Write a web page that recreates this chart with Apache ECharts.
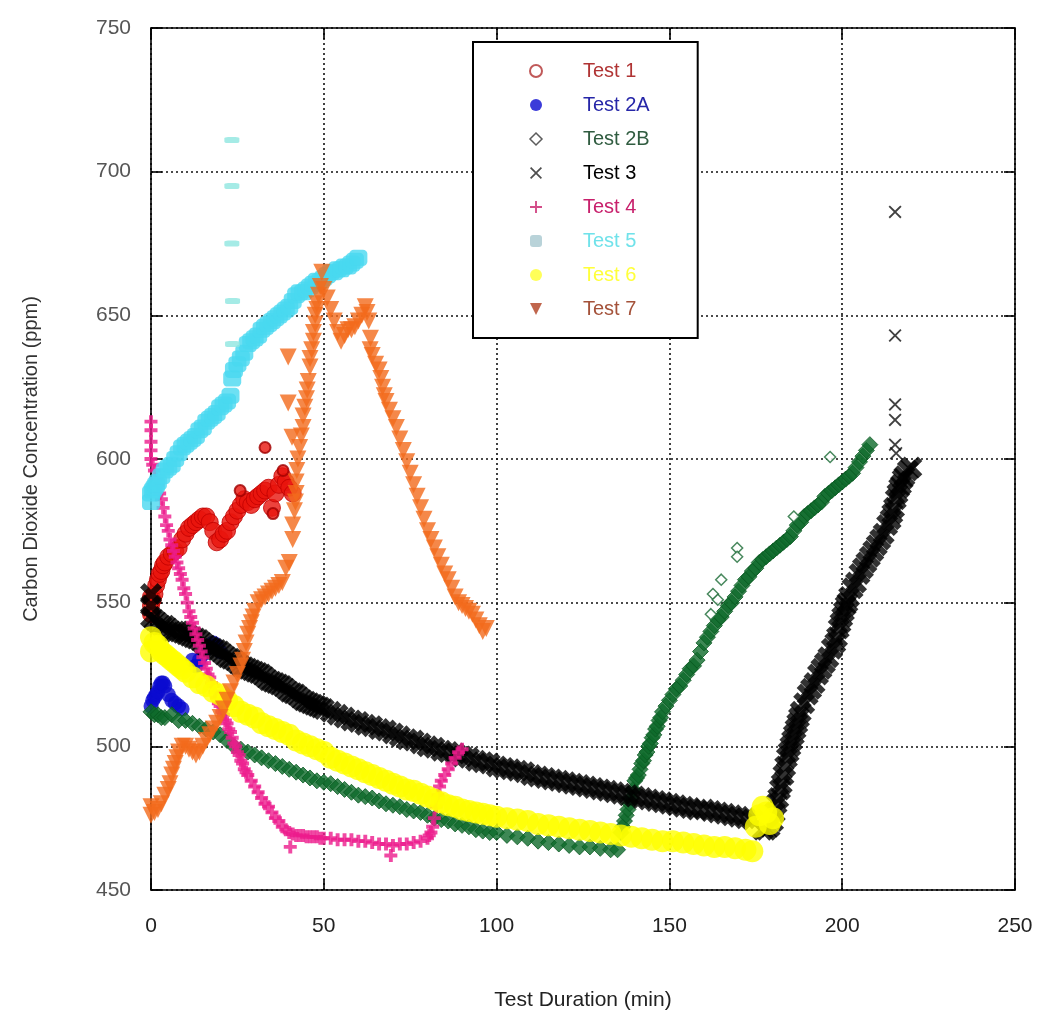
<!DOCTYPE html>
<html>
<head>
<meta charset="utf-8">
<script src="https://cdn.jsdelivr.net/npm/echarts@6/dist/echarts.min.js"></script>
<style>
html,body{margin:0;padding:0;background:#fff;}
#chart{width:1039px;height:1013px;}
</style>
</head>
<body>
<div id="chart"></div>
<script>
// ---- data (x = minutes, y = ppm) ----
var seriesNames = ['Test 1','Test 2A','Test 2B','Test 3','Test 4','Test 5','Test 6','Test 7'];
var xTicks = [0,50,100,150,200,250];
var yTicks = [450,500,550,600,650,700,750];

var test1 = [[0,546],[0,549],[0,552],[0.5,551],[1,553],[1.5,556],[2,558],[2.5,560],[3,561],[3.5,563],[4,564],[5,566],[6,567],[7,568],[8,569],[9,572],[10,574],[11,576],[12,577],[13,578],[14,579],[15,580],[16,580],[17,578],[18,575],[19,571],[20,572],[21,574],[22,575],[23,578],[24,580],[25,582],[26,584],[27,586],[28,585],[29,584],[30,586],[31,587],[32,588],[33,589],[34,590],[35,583],[36,588],[37,591],[38,594],[39,592],[40,590],[41,588]];
var test1Out = [[25.8,589],[33,604],[35.3,581],[38.2,596]];

var test2A = [[0,514],[0.5,516],[1,517],[1.5,518],[2,519],[2.5,521],[3,522],[3.5,522],[4,521],[5,518],[6,516],[7,515],[8,514],[9,513],[12,530],[13,528],[14,530],[15,532],[16,534],[17,535],[18,536],[19,535],[20,533]];

var test2B = [[0,512],[1,511],[2,511],[3,510],[4,510],[6,511],[8,509],[10,509],[12,508],[14,507],[16,506],[18,505],[20,504],[22,502],[24,500],[26,499],[28,498],[30,497],[32,496],[34,495],[36,494],[38,493],[40,492],[42,491],[44,490],[46,489],[48,488],[50,487.5],[52,487],[54,486],[56,485],[58,484],[60,483],[62,482.5],[64,482],[66,481],[68,480],[70,479.5],[72,479],[74,478],[76,477.5],[78,477],[80,476],[82,475],[84,474.5],[86,474],[88,473],[90,472.5],[92,472],[94,471],[96,470.5],[98,470],[100,470],[103,469],[106,468.5],[109,468],[112,467],[115,466.5],[118,466],[121,465.5],[124,465],[127,465],[130,464.5],[133,464],[135,464],
[136,470],[136.5,472],[137,474],[137.5,476],[138,478],[138.5,480],[139,482],[139.5,485],[140,488],[140.5,489],[141,490],[141.5,492],[142,494],[142.5,495],[143,497],[143.5,498],[144,500],[144.5,501],[145,503],[145.5,504],[146,506],[146.5,507],[147,509],[147.5,510],[148,512],[149,514],[150,516],[151,518],[152,520],[153,521],[154,523],[155,525],[156,527],[157,528],[158,530],[159,533],[160,536],[161,538],[162,540],[163,542],[164,544],[165,545],[166,547],[167,549],[168,550],[169,552],[170,554],[171,556],[172,558],[173,559],[174,561],[175,562],[176,564],[177,565],[178,566],[179,567],[180,568],[181,569],[182,570],[183,571],[184,572],[185,573],[186,575],[187,577],[188,578],[189,580],[190,581],[191,582],[192,583],[193,584],[194,585],[195,587],[196,588],[197,589],[198,590],[199,591],[200,592],[201,593],[202,594],[203,595],[204,597],[205,599],[206,601],[207,603],[208,605]];
var test2BOut = [[169.6,569],[169.6,566],[162.6,553],[196.5,600.7],[164,551],[162,546],[165,558],[186,580]];

var test3 = [[0,545],[0,549],[0,553],[1,544],[2,543],[3,542],[4,542],[5,541],[6,540],[7,540],[8,540],[9,539.5],[10,539],[11,538.5],[12,538],[13,537.5],[14,537],[15,536],[16,535],[17,534.5],[18,534],[19,533.5],[20,533],[21,532],[22,531],[23,530.5],[24,530],[25,529],[26,528],[27,527.5],[28,527],[29,526.5],[30,526],[31,525.5],[32,525],[33,524],[34,523],[35,522.5],[36,522],[37,521.5],[38,521],[39,520],[40,519],[41,518.5],[42,518],[43,517],[44,516],[45,515.5],[46,515],[47,514.5],[48,514],[49,513.5],[50,513],[52,512],[54,511],[56,510],[58,509],[60,508.5],[62,507.5],[64,507],[66,506],[68,505.5],[70,504.5],[72,503.5],[74,502.5],[76,502],[78,501],[80,500],[82,499.5],[84,498.5],[86,498],[88,497.5],[90,496.5],[92,496],[94,495],[96,494.5],[98,494],[100,493],[102,492.5],[104,492],[106,491.5],[108,491],[110,490],[112,489.5],[114,489],[116,488.5],[118,488],[120,487.5],[122,487],[124,486.5],[126,486],[128,485.5],[130,485],[132,484.5],[134,484],[136,483.5],[138,483],[140,482.5],[142,482],[144,481.5],[146,481],[148,480.5],[150,480],[152,479.5],[154,479],[156,478.5],[158,478],[160,478],[162,477.5],[164,477],[166,476.5],[168,476],[170,475.5],[172,475],[174,474.5],
[177,471],[178,471],[179,472],[180,474],[180.5,477],[181,480],[181.5,482],[182,485],[182.5,487],[183,490],[183.5,493],[184,496],[184.5,498],[185,500],[185.5,502],[186,504],[186.5,506],[187,508],[187.5,510],[188,512],[189,515],[190,518],[191,520],[192,522],[193,525],[194,527],[195,529],[196,531],[197,534],[198,536],[198.5,538],[199,541],[199.5,543],[200,545],[200.5,547],[201,549],[201.5,550],[202,552],[203,555],[204,557],[205,560],[206,562],[207,564],[208,566],[209,568],[210,570],[211,572],[212,574],[213,577],[214,579],[214.5,581],[215,583],[215.5,586],[216,588],[216.5,590],[217,591],[217.5,593],[218,594],[219,596],[220,597]];
var test3Out = [[215.3,686],[215.3,643],[215.3,619],[215.3,613.6],[215.3,605],[215.6,602]];

var test4 = [[0,613],[0,610],[0,606],[0,603],[0,600],[0.5,598],[1,596],[1.5,593],[2,591],[2.5,588],[3,586],[3.5,583],[4,580],[4.5,577],[5,575],[5.5,572],[6,570],[6.5,568],[7,566],[7.5,564],[8,562],[8.5,560],[9,558],[9.5,555],[10,553],[10.5,550],[11,547],[11.5,545],[12,543],[12.5,541],[13,539],[13.5,537],[14,535],[14.5,533],[15,531],[15.5,529],[16,527],[16.5,525],[17,524],[17.5,522],[18,521],[18.5,519],[19,517],[19.5,515],[20,514],[20.5,512],[21,511],[21.5,509],[22,508],[22.5,506],[23,505],[23.5,503],[24,501],[24.5,500],[25,498],[25.5,497],[26,495],[26.5,494],[27,492],[27.5,491],[28,490],[29,488],[30,486],[31,484],[32,482],[33,480],[34,479],[35,477],[36,475],[37,474],[38,472],[39,471],[40,470],[40.3,465],[41,469.5],[42,469],[43,469],[44,469],[45,468.5],[46,468.5],[47,468.5],[48,468.5],[49,468],[50,468],[52,468],[54,467.5],[56,467.5],[58,467.5],[60,467],[62,467],[64,466.5],[66,466],[68,466],[69.4,462],[70,465.5],[72,466],[74,466],[76,466.5],[78,467],[80,468],[80.5,469],[81,470],[81.5,472],[82,475],[82.5,479],[83,483],[83.5,486],[84,488],[85,490],[86,492],[87,494],[88,496],[89,498],[90,499]];

var test5 = [[0,585],[0,588],[0.5,589],[1,590],[1.5,591],[2,592],[3,594],[4,596],[5,597],[6,598],[7,600],[8,602],[9,604],[10,605],[11,606],[12,607],[13,608],[14,610],[15,611],[16,613],[17,614],[18,615],[19,616],[20,618],[21,619],[22,620],[23,622],
[23.5,628],[24,631],[25,633],[26,635],[27,637],[28,640],[29,641],[30,642],[31,643],[32,645],[33,646],[34,647],[35,648],[36,649],[37,650],[38,651],[39,652],[40,653],[41,655],[42,657],[43,658],[44,658],[45,659],[46,660],[47,661],[48,662],[49,662],[50,663],[51,664],[52,665],[53,665],[54,666],[55,666],[56,667],[57,667],[58,668],[59,669],[60,670]];
var test5Out = [[23.4,711],[23.4,695],[23.4,675],[23.6,655],[23.6,640]];

var test6 = [[0,533],[0,538],[1,536],[2,535],[3,533],[4,532],[5,531],[6,530],[7,529],[8,528],[9,527],[10,526],[12,524],[14,522],[16,521],[18,519],[20,518],[22,516],[24,514],[26,512],[28,511],[30,510],[32,508],[34,507],[36,506],[38,505],[40,504],[42,502],[44,501],[46,500],[48,499],[50,498],[52,496],[54,495],[56,494],[58,493],[60,492],[62,491],[64,490],[66,489],[68,488],[70,487],[72,486],[74,485],[76,484.5],[78,483.5],[80,482.5],[82,481.5],[84,480.5],[86,479.5],[88,479],[90,478],[92,477.5],[94,477],[96,476.5],[98,476],[100,475.5],[103,475],[106,474.5],[109,474],[112,473],[115,472.5],[118,472],[121,471.5],[124,471],[127,470.5],[130,470],[133,469.5],[136,469],[139,468.5],[142,468],[145,467.5],[148,467],[151,467],[154,466.5],[157,466],[160,465.5],[163,465],[166,465],[169,464.5],[172,464],[174,463.5],[175,472],[176,476],[177,479],[178,477],[179,473],[180,475]];

var test7 = [[0,476],[0,479],[1,477],[2,478],[3,480],[4,483],[5,485],[5.5,487],[6,490],[6.5,492],[7,494],[7.5,496],[8,498],[9,500],[10,500],[11,499],[12,498],[13,497],[14,498],[15,500],[16,502],[17,504],[18,506],[19,508],[20,510],[21,513],[22,516],[23,519],[24,522],[25,525],[26,528],[26.5,530],[27,533],[27.5,536],[28,539],[28.5,541],[29,543],[29.5,545],[30,547],[31,550],[32,551],[33,552],[34,553],[35,554],[36,555],[37,556],[38,557],[39,562],[40,564],
[41,572],[41,577],[41.5,582],[41.8,585],[42,588],[42,592],[42.2,596],[42.5,600],[43,604],[43.5,608],[44,611],[44,615],[44.5,618],[45,621],[45.2,624],[45.5,627],[46,632],[46,635],[46.5,638],[47,641],[47,644],[47.5,647],[47.5,650],[48,652],[48,654],[48.5,657],[49,660],[49.4,665],[50,659],[51,656],[52,652],[53,648],[54,644],[55,641],[56,643],[57,645],[58,645],[59,646],[60,648],[61,650],[62,653],[62.5,651],[63,648],[63.4,638],[63.5,642],[64,636],[65,633],[66,631],[66.5,628],[67,625],[67.5,622],[68,620],[69,617],[70,614],[71,611],[72,607],[73,603],[74,599],[75,595],[76,591],[77,587],[78,583],[79,579],[80,575],[81,572],[82,569],[83,566],[84,563],[85,560],[86,558],[87,555],[88,552],[89,550],[90,549],[91,548],[92,547],[93,546],[94,544],[95,542],[96,540],[97,541],
[39.7,635.5],[39.7,619.5],[40.8,607.6]];

// ---- styles ----
var X_PATH = 'path://M0,2L2,0L5,3L8,0L10,2L7,5L10,8L8,10L5,7L2,10L0,8L3,5Z';
var X_THIN = 'path://M0,1L1,0L5,4L9,0L10,1L6,5L10,9L9,10L5,6L1,10L0,9L4,5Z';
var PLUS_PATH = 'path://M3.5,0H6.5V3.5H10V6.5H6.5V10H3.5V6.5H0V3.5H3.5Z';
var PLUS_THIN = 'path://M4.2,0H5.8V4.2H10V5.8H5.8V10H4.2V5.8H0V4.2H4.2Z';
var TRI_DOWN = 'path://M0,0L10,0L5,10Z';

var seriesDefs = [
  {name:'Test 1', data:test1, symbol:'circle', size:17, item:{color:'#e8140c', borderColor:'#c00000', borderWidth:1}},
  {name:'Test 1', data:test1Out, symbol:'circle', size:11, item:{color:'#e8140c', borderColor:'#a00000', borderWidth:2}},
  {name:'Test 2A', data:test2A, symbol:'circle', size:15, item:{color:'#0a0ad0'}},
  {name:'Test 2B', data:test2B, symbol:'diamond', size:16, item:{color:'#0e6a2a', borderColor:'#0a5a22', borderWidth:1}},
  {name:'Test 2B', data:test2BOut, symbol:'diamond', size:11, item:{color:'#ffffff', borderColor:'#1a6a34', borderWidth:1.5}},
  {name:'Test 3', data:test3, symbol:X_PATH, size:22, item:{color:'#000000'}},
  {name:'Test 3', data:test3Out, symbol:X_THIN, size:13, item:{color:'#111111'}},
  {name:'Test 4', data:test4, symbol:PLUS_PATH, size:13, item:{color:'#ec1c8c'}},
  {name:'Test 5', data:test5, symbol:'roundRect', size:[18,16], item:{color:'#48d8f0'}},
  {name:'Test 5', data:test5Out, symbol:'roundRect', size:[15,6], item:{color:'#8fe6e0'}},
  {name:'Test 6', data:test6, symbol:'circle', size:22, item:{color:'#ffff00'}},
  {name:'Test 7', data:test7, symbol:TRI_DOWN, size:17, item:{color:'#f26a1c'}}
];

var legendStyles = [
  {icon:'circle', style:{color:'#ffffff', borderColor:'#b03030', borderWidth:2}, text:'#b03434'},
  {icon:'circle', style:{color:'#0a0ad0'}, text:'#2626a8'},
  {icon:'diamond', style:{color:'#ffffff', borderColor:'#333', borderWidth:1.5}, text:'#305c40'},
  {icon:X_THIN, style:{color:'#222'}, text:'#000000'},
  {icon:PLUS_THIN, style:{color:'#c8206c'}, text:'#c8206c'},
  {icon:'roundRect', style:{color:'#a8c8d0'}, text:'#70e2ea'},
  {icon:'circle', style:{color:'#ffff30'}, text:'#ffff3a'},
  {icon:TRI_DOWN, style:{color:'#b04020'}, text:'#a4523a'}
];

var zOrder = {'Test 1':2,'Test 2A':3,'Test 2B':4,'Test 3':5,'Test 4':6,'Test 5':7,'Test 6':8,'Test 7':9};
var series = seriesDefs.map(function(d){
  return {
    name:d.name, type:'scatter', data:d.data,
    symbol:d.symbol, symbolSize:d.size, itemStyle:d.item,
    z:zOrder[d.name], animation:false, emphasis:{disabled:true}, silent:true
  };
});

var legendData = seriesNames.map(function(name,i){
  return {name:name, icon:legendStyles[i].icon, itemStyle:legendStyles[i].style,
          textStyle:{color:legendStyles[i].text}};
});

var FONT_N = "'Liberation Sans Narrow','Liberation Sans',Arial,sans-serif";
var FONT = "'Liberation Sans',Arial,sans-serif";

var dotted = {type:[2,3], color:'#111', width:1.6};
var axisLineStyle = {show:true, onZero:false, lineStyle:{color:'#000', width:1.6}};
var tickStyle = {show:true, inside:true, length:11, lineStyle:{color:'#000', width:1.6}};

var chart = echarts.init(document.getElementById('chart'), null, {renderer:'canvas'});
chart.setOption({
  backgroundColor:'#ffffff',
  animation:false,
  grid:{left:151, right:24, top:28, bottom:123, containLabel:false, outerBoundsMode:'none'},
  legend:{
    orient:'vertical', left:473, top:42,
    padding:[19,48,19,56],
    itemWidth:12, itemHeight:12, itemGap:14,
    borderColor:'#000', borderWidth:2, backgroundColor:'#fff',
    textStyle:{fontSize:20, fontFamily:FONT, lineHeight:20, padding:[0,0,0,36]},
    selectedMode:false,
    data:legendData
  },
  xAxis:[{
    type:'value', min:xTicks[0], max:xTicks[xTicks.length-1], interval:50, position:'bottom',
    name:'Test Duration (min)', nameLocation:'middle', nameGap:100,
    nameTextStyle:{fontSize:21, color:'#222', fontFamily:FONT_N},
    axisLine:axisLineStyle, axisTick:tickStyle,
    axisLabel:{margin:26, fontSize:21, color:'#222', fontFamily:FONT_N},
    splitLine:{show:true, lineStyle:dotted}
  },{
    type:'value', min:xTicks[0], max:xTicks[xTicks.length-1], interval:50, position:'top',
    axisLine:axisLineStyle, axisTick:tickStyle,
    axisLabel:{show:false}, splitLine:{show:false}
  }],
  yAxis:[{
    type:'value', min:yTicks[0], max:yTicks[yTicks.length-1], interval:50, position:'left',
    name:'Carbon Dioxide Concentration (ppm)', nameLocation:'middle', nameGap:110, nameRotate:90,
    nameTextStyle:{fontSize:20, color:'#333', fontFamily:FONT_N},
    axisLine:axisLineStyle, axisTick:tickStyle,
    axisLabel:{margin:20, fontSize:21, color:'#555', fontFamily:FONT},
    splitLine:{show:true, lineStyle:dotted}
  },{
    type:'value', min:yTicks[0], max:yTicks[yTicks.length-1], interval:50, position:'right',
    axisLine:axisLineStyle, axisTick:tickStyle,
    axisLabel:{show:false}, splitLine:{show:false}
  }],
  series:series
});
</script>
</body>
</html>
